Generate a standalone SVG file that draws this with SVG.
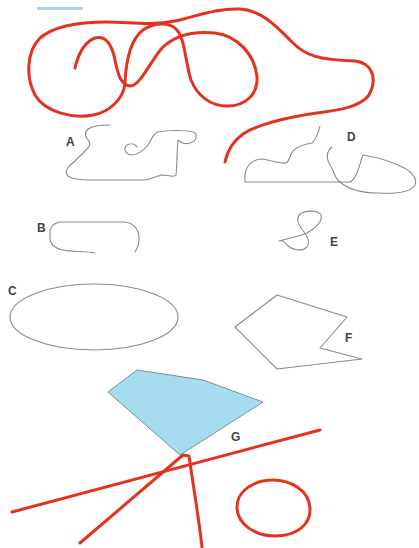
<svg xmlns="http://www.w3.org/2000/svg" width="419" height="548" viewBox="0 0 419 548">
<style>
.red{fill:none;stroke:#e5321f;stroke-width:3;stroke-linecap:round;stroke-linejoin:round}
.gray{fill:none;stroke:#8a8a8a;stroke-width:1.1;stroke-linecap:round;stroke-linejoin:round}
.lbl{font-family:"Liberation Sans",Arial,sans-serif;font-size:12px;font-weight:bold;fill:#444}
</style>
<rect width="419" height="548" fill="#fff"/>
<rect x="37" y="7" width="46" height="3" fill="#9ec9de" opacity="0.8"/>
<g id="scribble">
<path class="red" d="M75,68 C78,55 84,42 95,38 C106,35 112,45 115,60 C118,75 121,85 130,86 C140,86 150,62 162,48 C175,35 195,31 215,33 C238,36 255,55 257,77 C258,95 245,106 227,106 C210,106 197,95 191,80 C185,60 185,40 177,30 C170,22 155,22 143,30 C130,40 126,60 125,83 C124,98 110,112 93,115 C72,119 45,112 35,95 C26,78 26,52 40,38 C55,25 80,22 107,22 C130,22 150,26 175,21 C195,17 215,8 240,9 C262,10 278,28 293,43 C305,55 318,60 355,61 C372,63 378,78 369,95 C360,107 340,110 317,113 C290,117 260,123 243,134 C232,142 227,152 225,162"/>
</g>
<g id="A">
<path class="gray" d="M110,125 C100,125 92,126 88,129 C84,133 85,137 89,141 C91,144 89,147 87,149 C82,154 78,158 74,162 C67,167 64,172 68,176 C72,179 80,180 90,180 L143,180 C150,180 156,176 162,175 C168,175 174,178 176,175 C177,166 177,150 178,140 C180,142 185,145 190,143 C197,141 198,134 193,132 C185,130 170,130 158,132 C153,134 151,140 148,145 C144,150 138,155 131,155 C125,154 123,148 127,145 C131,143 135,144 137,147"/>
<text class="lbl" x="66" y="146">A</text>
</g>
<g id="B">
<path class="gray" d="M95,253 C85,251 72,252 63,250 C54,248 50,244 50,238 L50,230 C52,225 56,222 62,222 L125,222 C134,223 139,230 139,238 C139,245 137,249 135,252"/>
<text class="lbl" x="37" y="232">B</text>
</g>
<g id="D">
<path class="gray" d="M320,126 C318,135 315,140 312,143 C305,144 298,146 293,151 C289,156 290,161 286,163 C280,164 270,160 262,159 C255,159 250,163 247,168 C244,173 245,178 245,182 L350,182"/>
<path class="gray" d="M332,147 C326,152 326,158 330,165 C335,172 334,178 340,182 C348,189 360,193 378,193 C395,194 410,193 415,185 C418,178 410,170 400,166 C390,161 375,157 363,155 C360,162 359,170 356,175 C354,179 352,181 350,182"/>
<text class="lbl" x="347" y="141">D</text>
</g>
<g id="E">
<path class="gray" d="M279,241 C290,238 300,236 307,233 C316,228 323,221 321,215 C318,210 306,210 300,214 C295,219 299,226 304,232 C308,237 310,243 307,247 C302,252 292,250 287,245 C285,242 282,240 279,241"/>
<text class="lbl" x="330" y="246">E</text>
</g>
<g id="C">
<ellipse class="gray" cx="94" cy="317" rx="84" ry="33"/>
<text class="lbl" x="8" y="295">C</text>
</g>
<g id="F">
<polygon class="gray" points="277,295 347,317 320,348 362,359 277,369 235,327"/>
<text class="lbl" x="345" y="342">F</text>
</g>
<g id="G">
<polygon points="137,370 203,380 263,402 180,455 108,392" fill="#a6dcef" stroke="#7c8f96" stroke-width="1"/>
<text class="lbl" x="231" y="441">G</text>
</g>
<g id="strokes">
<path class="red" d="M320,430 L12,512"/>
<path class="red" d="M80,543 L183,455 L189,456 C194,490 199,520 202,547"/>
<path class="red" d="M273,480 C290,480 309,490 310,508 C311,525 296,536 275,536 C255,536 237,524 237,507 C237,490 255,480 273,480 Z"/>
</g>
</svg>
